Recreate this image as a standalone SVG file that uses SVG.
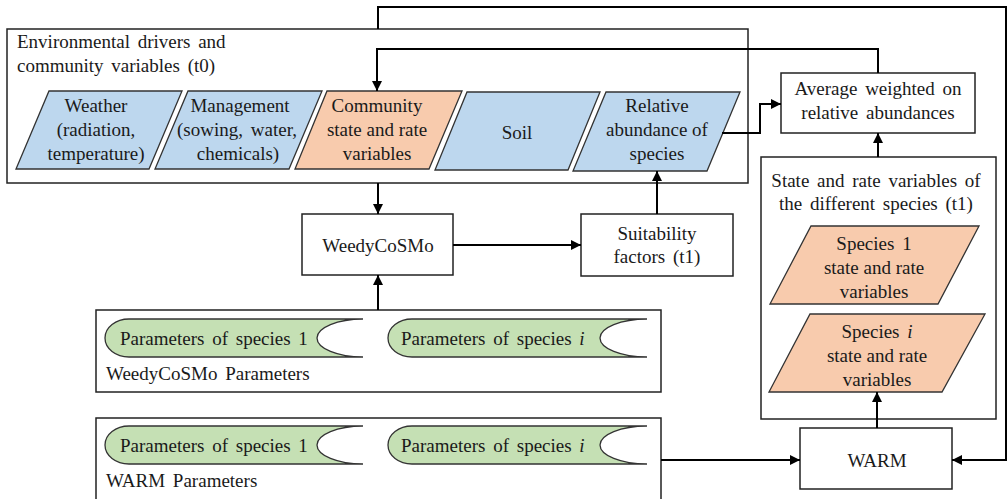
<svg xmlns="http://www.w3.org/2000/svg" width="1008" height="499" viewBox="0 0 1008 499">
  <defs>
    <marker id="arrow" viewBox="0 0 10 10" refX="10" refY="5" markerWidth="10" markerHeight="10" markerUnits="userSpaceOnUse" orient="auto">
      <path d="M0,0 L10,5 L0,10 Z" fill="#000"/>
    </marker>
    <style>
      text { font-family: "Liberation Serif", "Times New Roman", serif; font-size: 19px; fill: #1a1a1a; }
      .c { text-anchor: middle; }
      .box { fill: #fff; stroke: #222; stroke-width: 1.5; }
      .frame { fill: none; stroke: #222; stroke-width: 1.5; }
      .blue { fill: #BDD7EE; stroke: #333; stroke-width: 1.3; }
      .peach { fill: #F8CBAD; stroke: #333; stroke-width: 1.3; }
      .green { fill: #C5E0B4; stroke: #333; stroke-width: 1.3; }
      .link { fill: none; stroke: #000; stroke-width: 2; }
      .ws { word-spacing: 3px; }
    </style>
  </defs>
  <rect width="1008" height="499" fill="#fff"/>

  <!-- group frames -->
  <g id="env-frame">
    <rect class="frame" x="7" y="29" width="741" height="154"/>
    <text class="ws" x="17" y="48">Environmental drivers and</text>
    <text class="ws" x="17" y="72">community variables (t0)</text>
  </g>
  <g id="species-frame">
    <rect class="frame" x="761" y="157" width="235" height="262"/>
    <text class="c ws" x="876" y="187">State and rate variables of</text>
    <text class="c ws" x="876" y="210">the different species (t1)</text>
  </g>
  <g id="weedy-params">
    <rect class="frame" x="96" y="310" width="565" height="82"/>
    <text class="ws" x="106" y="380">WeedyCoSMo Parameters</text>
  </g>
  <g id="warm-params">
    <rect class="frame" x="96" y="418" width="565" height="90"/>
    <text class="ws" x="106" y="487">WARM Parameters</text>
  </g>

  <!-- environmental inputs -->
  <g id="weather">
    <polygon class="blue" points="49,91 182,91 149,169 16,169"/>
    <text class="c" x="96" y="112">Weather</text>
    <text class="c" x="96" y="136">(radiation,</text>
    <text class="c" x="96" y="160">temperature)</text>
  </g>
  <g id="management">
    <polygon class="blue" points="188,91 322,91 289,169 155,169"/>
    <text class="c" x="240" y="112">Management</text>
    <text class="c ws" x="237" y="136">(sowing, water,</text>
    <text class="c" x="238" y="160">chemicals)</text>
  </g>
  <g id="community">
    <polygon class="peach" points="327,91 462,91 429,169 295,169"/>
    <text class="c" x="377" y="112">Community</text>
    <text class="c" x="377" y="136">state and rate</text>
    <text class="c" x="377" y="160">variables</text>
  </g>
  <g id="soil">
    <polygon class="blue" points="467,92 600,92 568,170 435,170"/>
    <text class="c" x="517" y="139">Soil</text>
  </g>
  <g id="relative-abundance">
    <polygon class="blue" points="606,92 740,92 707,171 573,171"/>
    <text class="c" x="657" y="112">Relative</text>
    <text class="c" x="657" y="136">abundance of</text>
    <text class="c" x="657" y="160">species</text>
  </g>

  <!-- processing boxes -->
  <g id="average">
    <rect class="box" x="781" y="73" width="194" height="60"/>
    <text class="c ws" x="878" y="95">Average weighted on</text>
    <text class="c ws" x="878" y="119">relative abundances</text>
  </g>
  <g id="weedycosmo">
    <rect class="box" x="302" y="214" width="151" height="61"/>
    <text class="c" x="378" y="252">WeedyCoSMo</text>
  </g>
  <g id="suitability">
    <rect class="box" x="581" y="214" width="152" height="62"/>
    <text class="c" x="657" y="240">Suitability</text>
    <text class="c ws" x="657" y="263">factors (t1)</text>
  </g>
  <g id="warm">
    <rect class="box" x="800" y="428" width="152" height="61"/>
    <text class="c" x="877" y="467">WARM</text>
  </g>

  <!-- species outputs -->
  <g id="species-1">
    <polygon class="peach" points="811,226 979,226 938,304 770,304"/>
    <text class="c ws" x="874" y="250">Species 1</text>
    <text class="c" x="874" y="274">state and rate</text>
    <text class="c" x="874" y="298">variables</text>
  </g>
  <g id="species-i">
    <polygon class="peach" points="810,314 985,314 942,392 769,392"/>
    <text class="c ws" x="877" y="338">Species <tspan font-style="italic">i</tspan></text>
    <text class="c" x="877" y="362">state and rate</text>
    <text class="c" x="877" y="386">variables</text>
  </g>

  <!-- parameter stores -->
  <g id="weedy-param-1">
    <path class="green" d="M129,319 L363,319 A46,19 0 0 0 363,357 L129,357 A24,19 0 0 1 129,319 Z"/>
    <text class="ws" x="120" y="345">Parameters of species 1</text>
  </g>
  <g id="weedy-param-i">
    <path class="green" d="M412,319 L647,319 A47,19 0 0 0 647,357 L412,357 A24,19 0 0 1 412,319 Z"/>
    <text class="ws" x="401" y="345">Parameters of species <tspan font-style="italic">i</tspan></text>
  </g>
  <g id="warm-param-1">
    <path class="green" d="M129,426 L363,426 A46,19 0 0 0 363,464 L129,464 A24,19 0 0 1 129,426 Z"/>
    <text class="ws" x="120" y="452">Parameters of species 1</text>
  </g>
  <g id="warm-param-i">
    <path class="green" d="M412,426 L647,426 A47,19 0 0 0 647,464 L412,464 A24,19 0 0 1 412,426 Z"/>
    <text class="ws" x="401" y="452">Parameters of species <tspan font-style="italic">i</tspan></text>
  </g>

  <!-- connectors -->
  <g id="connectors">
    <path class="link" d="M378,29 L378,7 L1006,7 L1006,460 L952,460" marker-end="url(#arrow)"/>
    <path class="link" d="M878,73 L878,49 L377,49 L377,91" marker-end="url(#arrow)"/>
    <path class="link" d="M722,133 L760,133 L760,104 L781,104" marker-end="url(#arrow)"/>
    <path class="link" d="M878,157 L878,133" marker-end="url(#arrow)"/>
    <path class="link" d="M378,183 L378,214" marker-end="url(#arrow)"/>
    <path class="link" d="M453,245 L581,245" marker-end="url(#arrow)"/>
    <path class="link" d="M657,214 L657,171" marker-end="url(#arrow)"/>
    <path class="link" d="M378,310 L378,275" marker-end="url(#arrow)"/>
    <path class="link" d="M661,460 L800,460" marker-end="url(#arrow)"/>
    <path class="link" d="M877,428 L877,392" marker-end="url(#arrow)"/>
  </g>
</svg>
